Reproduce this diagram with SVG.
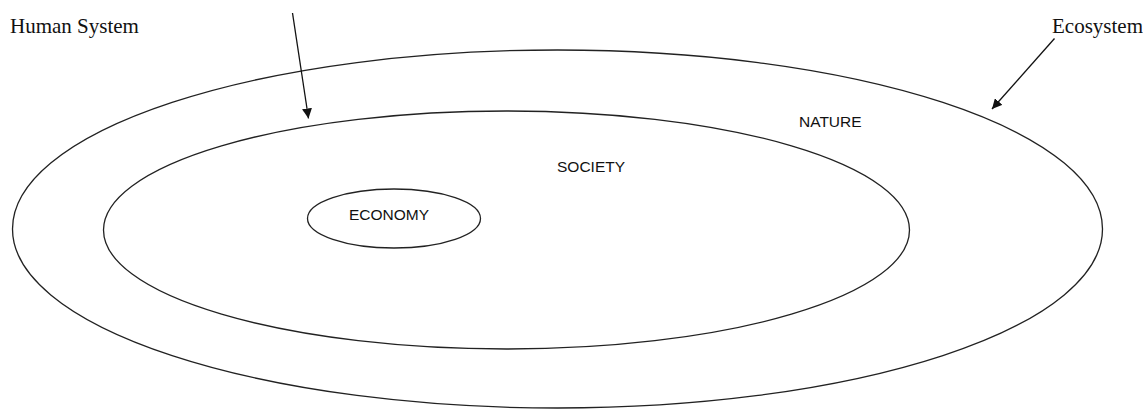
<svg xmlns="http://www.w3.org/2000/svg" width="1143" height="409" viewBox="0 0 1143 409">
  <style>
    .ring { fill: none; stroke: #222; stroke-width: 1.3; }
    .serif { font-family: "Liberation Serif", "Times New Roman", serif; font-size: 21px; fill: #111; }
    .sans { font-family: "Liberation Sans", Arial, sans-serif; font-size: 15.5px; fill: #111; }
    .conn { fill: none; stroke: #111; stroke-width: 1.3; marker-end: url(#head); }
  </style>
  <defs>
    <marker id="head" viewBox="0 0 10 10" refX="10" refY="5" markerWidth="10" markerHeight="10" markerUnits="userSpaceOnUse" orient="auto">
      <path d="M0,0 L10,5 L0,10 Z" fill="#111"/>
    </marker>
  </defs>

  <!-- outermost ring: ecosystem / nature -->
  <g id="nature">
    <ellipse class="ring" cx="557.5" cy="229" rx="545" ry="179"/>
    <text class="sans" x="799" y="127">NATURE</text>
  </g>

  <!-- middle ring: society -->
  <g id="society">
    <ellipse class="ring" cx="506.5" cy="230" rx="403" ry="119"/>
    <text class="sans" x="557" y="172">SOCIETY</text>
  </g>

  <!-- inner ring: economy -->
  <g id="economy">
    <ellipse class="ring" cx="394" cy="218.5" rx="86.5" ry="29.5"/>
    <text class="sans" x="389" y="219.5" text-anchor="middle">ECONOMY</text>
  </g>

  <g id="label-human-system">
    <text class="serif" x="10" y="33">Human System</text>
  </g>

  <g id="label-ecosystem">
    <text class="serif" x="1052" y="33">Ecosystem</text>
  </g>

  <!-- pointers from the labels to the rings -->
  <g id="connectors">
    <line class="conn" x1="292.5" y1="13" x2="308.5" y2="118.5"/>
    <line class="conn" x1="1054.5" y1="38.5" x2="992" y2="109"/>
  </g>
</svg>
